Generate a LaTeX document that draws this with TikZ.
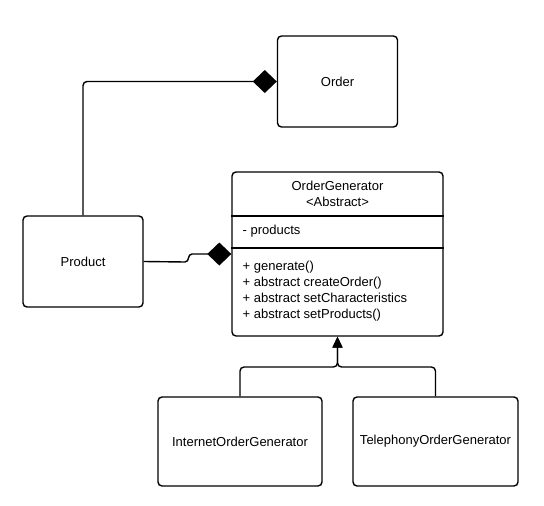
\documentclass[tikz,border=0pt]{standalone}
\usepackage{fontspec}
\setmainfont{Liberation Sans}
\usepackage{tikz}
\usetikzlibrary{arrows.meta,positioning}

\begin{document}
\begin{tikzpicture}[x=1pt,y=-1pt,>=Latex,line width=1.4pt]
\tikzstyle{box}=[draw=black,rounded corners=4pt,align=center,minimum width=120pt,minimum height=91pt,font=\fontsize{13}{16}\selectfont,line width=1.4pt]
\tikzstyle{txt}=[inner sep=0pt,align=left,font=\fontsize{13}{16}\selectfont]
\tikzstyle{comp}=[-{Diamond[length=24pt,width=23pt]},rounded corners=4pt]
\tikzstyle{inherit}=[-{Triangle[length=11pt,width=10pt]},rounded corners=4pt]
\useasboundingbox (0,0) rectangle (544,506);
\node[box] (order) at (337.5,81.5) {Order};
\node[box] (product) at (83,261.5) {Product};
\node[box,minimum width=211pt,minimum height=164pt] (gen) at (337.5,254) {};
\node[txt,align=center] (genname) at (337.5,193.5) {OrderGenerator\\<Abstract>};
\node[txt,anchor=west] (genattr) at (242,231.5) {- products};
\node[txt,anchor=west] (genops) at (242,291) {+ generate()\\+ abstract createOrder()\\+ abstract setCharacteristics\\+ abstract setProducts()};
\draw (gen.west |- 0,216) -- (gen.east |- 0,216);
\draw (gen.west |- 0,248) -- (gen.east |- 0,248);
\node[box,minimum width=164pt,minimum height=89pt] (internet) at (240,441.5) {InternetOrderGenerator};
\node[box,minimum width=165pt,minimum height=89pt] (telephony) at (435.5,441.5) {TelephonyOrderGenerator};
\coordinate (split) at (gen.south |- 0,367);
\coordinate (hop) at (185,262);
% composition
\draw[comp] (product.north) |- (order.west);
\draw[comp,sharp corners] (product.east) -- (hop) .. controls +(5,0) and +(-5,0) .. ++(7,-8) -- (gen.west);
% inheritance
\draw[inherit] (internet.north) |- (split) -- (gen.south);
\draw[inherit] (telephony.north) |- (split) -- (gen.south);
\end{tikzpicture}
\end{document}
